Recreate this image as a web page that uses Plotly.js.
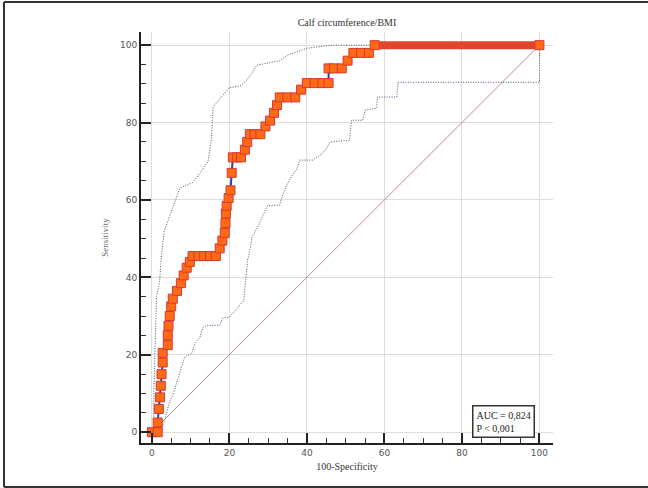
<!DOCTYPE html>
<html>
<head>
<meta charset="utf-8">
<script src="https://cdn.plot.ly/plotly-3.0.1.min.js"></script>
<style>html,body{margin:0;padding:0;background:#fff;}#chart{width:648px;height:488px;}</style>
</head>
<body>
<div id="chart"></div>
<script>
// ROC curve points (100-Specificity, Sensitivity)
const rocX = [0,1.5,1.5,1.8,2.1,2.3,2.5,2.8,2.8,4.1,4.1,4.3,4.6,5,5.4,6.5,7.5,8.2,9,9.8,10.5,12,13.5,15,16.5,17.5,18.2,18.8,19,19.1,19.3,19.8,20.3,20.6,20.9,22,23,24,24.6,25.3,26.5,28,29.3,30.5,31.5,32.3,33,35,37,38.5,40,42,44,45.6,45.6,47,49,50.5,52,54,56,57.5,100];
const rocY = [0,0,2.5,6,9,12,15,18,20.5,22.5,25,27.5,30,32.5,34.5,36.5,38.5,40.5,42.5,44,45.5,45.5,45.5,45.5,45.5,47.5,49.5,51.5,54,56.5,58.5,60.5,62.5,67,71,71,71,73,75,77,77,77,79,80.5,82.5,84.5,86.5,86.5,86.5,88.5,90.2,90.2,90.2,90.2,94,94,94,96,98,98,98,100,100];
// 95% confidence bounds
const upperX = [0,0.5,0.5,0.8,1,1.2,2,2.5,3.2,5.4,7.2,10.5,12.5,14.5,15.4,15.6,15.8,17,19,20,23,24.5,26,27,33,35,40,46.5,100];
const upperY = [0,0,10,20,30,35,39,46,52,58,63,64.5,67,70,76,80.6,84,85.5,88,89,89.5,91,93,94.8,96,97.4,99.2,100,100];
const lowerX = [2.6,2.8,3.8,4.6,5.4,6.7,7.2,8,8.5,10.3,11.1,12.4,13.1,14.2,17.5,18.3,20,22,23.2,23.7,24.2,24.7,25.5,25.8,27.3,28.5,29.8,33,33.5,34.8,36,37.4,38.1,41.5,44,45.1,46,51,51.5,54.4,55,58,58.2,63.2,63.5,100,100];
const lowerY = [0,1.5,5,8,9.5,14,15.5,18,19.4,20.4,23,24.5,27,27.6,27.6,29.5,29.7,32,33.6,34,39.3,44.4,48,50.4,53,55.5,58.5,58.7,60.7,63.8,66,68,70.3,70.3,72,73.4,75,75.4,80.6,80.6,83.2,83.7,86.6,86.6,90.4,90.4,100];
const diagX = [0,100];
const diagY = [0,100];
const tickVals = [0,20,40,60,80,100];
const tickText = ['0','20','40','60','80','100'];
const chartTitle = 'Calf circumference/BMI';
const xTitle = '100-Specificity';
const yTitle = 'Sensitivity';
const aucText = 'AUC = 0,824<br>P < 0,001';

// horizontal runs of the ROC curve (dense criterion markers)
const runX = [], runY = [];
for (let i = 0; i < rocX.length - 1; i++) {
  if (rocY[i] === rocY[i+1]) {
    runX.push(rocX[i], rocX[i+1], null);
    runY.push(rocY[i], rocY[i+1], null);
  }
}

const serif = 'Liberation Serif, Times New Roman, serif';
const traces = [
  {x: diagX, y: diagY, mode: 'lines', line: {color: '#b58c8c', width: 1}, hoverinfo: 'skip'},
  {x: upperX, y: upperY, mode: 'lines', line: {color: '#4f5478', width: 1, dash: '1px,1.5px'}},
  {x: lowerX, y: lowerY, mode: 'lines', line: {color: '#4f5478', width: 1, dash: '1px,1.5px'}},
  {x: rocX, y: rocY, mode: 'lines', line: {color: '#2f3fa8', width: 2}},
  {x: runX, y: runY, mode: 'lines', line: {color: '#e0452f', width: 8}, connectgaps: false},
  {x: rocX, y: rocY, mode: 'markers', marker: {symbol: 'square', size: 9, color: '#ff6a13', line: {color: '#d4393a', width: 1}}}
];

const px2x = p => (p - 141) / 412;
const py2y = p => (443 - p) / 411;

const layout = {
  width: 648, height: 488,
  margin: {l: 141, r: 95, t: 32, b: 45},
  paper_bgcolor: '#fff', plot_bgcolor: '#fff',
  showlegend: false,
  title: {text: chartTitle, font: {family: serif, size: 10, color: '#333'}, x: 0.5, xref: 'paper', xanchor: 'center', y: 1 - 22/488, yanchor: 'middle'},
  xaxis: {
    range: [-2.8, 103.5], tickvals: tickVals, ticktext: tickText,
    showgrid: true, gridcolor: '#dcdcdc', gridwidth: 1, zeroline: false,
    showline: true, linecolor: '#222', linewidth: 2,
    ticks: 'inside', ticklen: 10, tickwidth: 2, tickcolor: '#222',
    minor: {dtick: 5, ticks: 'inside', ticklen: 5, tickwidth: 1, tickcolor: '#333', showgrid: false},
    tickfont: {family: 'DejaVu Sans, sans-serif', size: 9, color: '#555'},
    title: {text: xTitle, font: {family: serif, size: 10, color: '#333'}, standoff: 6},
    fixedrange: true
  },
  yaxis: {
    range: [-2.8, 103.4], tickvals: tickVals, ticktext: tickText,
    showgrid: true, gridcolor: '#dcdcdc', gridwidth: 1, zeroline: false,
    showline: true, linecolor: '#222', linewidth: 2,
    ticks: 'inside', ticklen: 10, tickwidth: 2, tickcolor: '#222',
    minor: {dtick: 5, ticks: 'inside', ticklen: 5, tickwidth: 1, tickcolor: '#333', showgrid: false},
    tickfont: {family: 'DejaVu Sans, sans-serif', size: 9, color: '#555'},
    title: {text: yTitle, font: {family: serif, size: 9, color: '#666'}, standoff: 10},
    fixedrange: true
  },
  annotations: [{
    x: 82.7, y: 7, xref: 'x', yref: 'y', xanchor: 'left', yanchor: 'top',
    text: aucText, align: 'left', showarrow: false,
    font: {family: serif, size: 10, color: '#222'},
    bordercolor: '#333', borderwidth: 1.5, borderpad: 3, bgcolor: '#fff'
  }],
  shapes: [
    {type: 'line', xref: 'paper', yref: 'paper', x0: px2x(4), x1: px2x(4), y0: py2y(487), y1: py2y(2), line: {color: '#333', width: 2}},
    {type: 'line', xref: 'paper', yref: 'paper', x0: px2x(4), x1: px2x(648), y0: py2y(2), y1: py2y(2), line: {color: '#333', width: 2}},
    {type: 'line', xref: 'paper', yref: 'paper', x0: px2x(4), x1: px2x(648), y0: py2y(487), y1: py2y(487), line: {color: '#333', width: 2}}
  ]
};

Plotly.newPlot('chart', traces, layout, {displayModeBar: false, staticPlot: true});
</script>
</body>
</html>
